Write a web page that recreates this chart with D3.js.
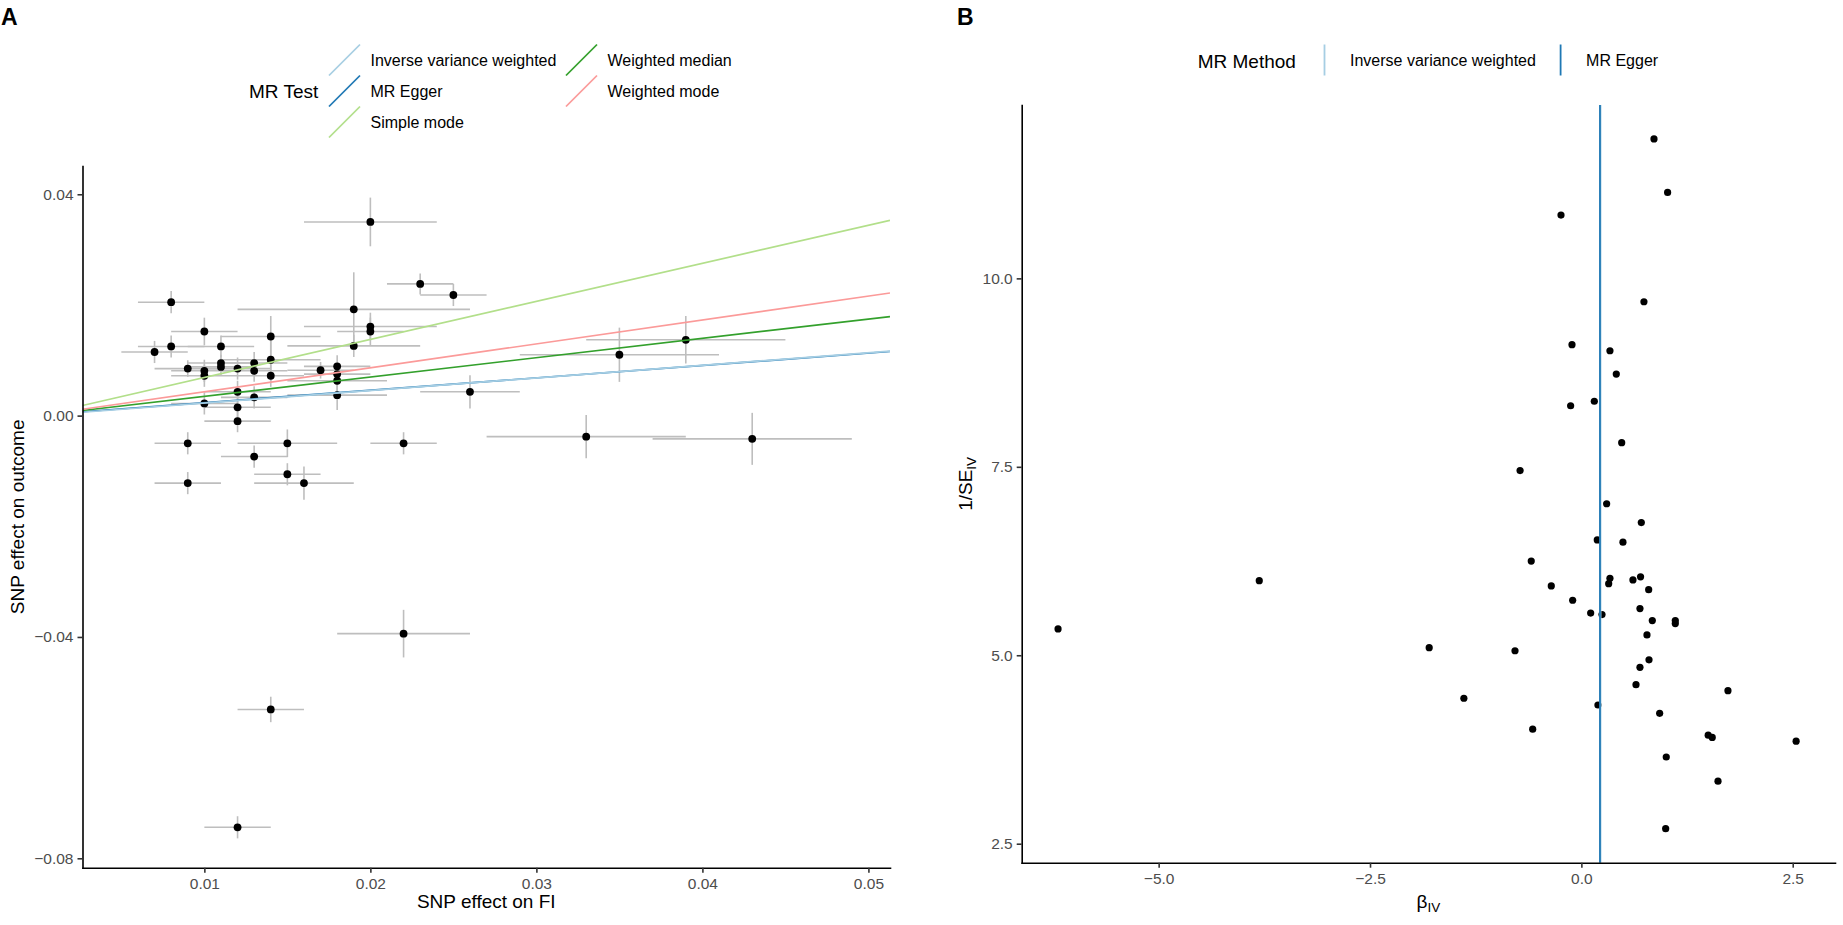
<!DOCTYPE html>
<html>
<head>
<meta charset="utf-8">
<script src="https://cdn.jsdelivr.net/npm/d3@7"></script>
<style>
  body { margin: 0; background: #fff; }
  svg { display: block; }
</style>
</head>
<body>
<svg id="fig" width="1843" height="925"></svg>
<script>
// Panel A: SNP effect on FI vs SNP effect on outcome, with MR fits
const snpFI = [0.020, 0.023, 0.025, 0.008, 0.019, 0.020, 0.020, 0.010, 0.014, 0.008,
  0.011, 0.019, 0.007, 0.014, 0.011, 0.011, 0.013, 0.013, 0.012, 0.009,
  0.010, 0.010, 0.014, 0.017, 0.018, 0.018, 0.018, 0.018, 0.012, 0.013,
  0.010, 0.012, 0.012, 0.009, 0.015, 0.022, 0.013, 0.015, 0.009, 0.016,
  0.026, 0.033, 0.035, 0.039, 0.043, 0.022, 0.014, 0.012];
const snpOutcome = [0.0350, 0.0238, 0.0218, 0.0205, 0.0192, 0.0161, 0.0152, 0.0152, 0.0143, 0.0125,
  0.0125, 0.0126, 0.0115, 0.0101, 0.0095, 0.0088, 0.0095, 0.0081, 0.0085, 0.0085,
  0.0081, 0.0072, 0.0072, 0.0082, 0.0089, 0.0075, 0.0063, 0.0037, 0.0043, 0.0033,
  0.0022, 0.0015, -0.0010, -0.0050, -0.0050, -0.0050, -0.0074, -0.0106, -0.0122, -0.0122,
  0.0043, -0.0038, 0.0110, 0.0137, -0.0042, -0.0394, -0.0531, -0.0744];
const seFI = [0.004, 0.002, 0.002, 0.002, 0.007, 0.004, 0.002, 0.002, 0.003, 0.002,
  0.002, 0.004, 0.002, 0.003, 0.002, 0.002, 0.002, 0.002, 0.002, 0.002,
  0.002, 0.002, 0.002, 0.002, 0.002, 0.002, 0.003, 0.003, 0.002, 0.002,
  0.002, 0.002, 0.002, 0.002, 0.003, 0.002, 0.002, 0.002, 0.002, 0.003,
  0.003, 0.006, 0.006, 0.006, 0.006, 0.004, 0.002, 0.002];
const seOutcome = [0.0044, 0.0019, 0.0020, 0.0020, 0.0067, 0.0025, 0.0025, 0.0025, 0.0037, 0.0020,
  0.0020, 0.0020, 0.0020, 0.0040, 0.0015, 0.0015, 0.0020, 0.0020, 0.0020, 0.0015,
  0.0020, 0.0020, 0.0020, 0.0015, 0.0020, 0.0015, 0.0020, 0.0027, 0.0020, 0.0020,
  0.0020, 0.0020, 0.0020, 0.0020, 0.0025, 0.0020, 0.0020, 0.0020, 0.0020, 0.0030,
  0.0030, 0.0039, 0.0049, 0.0043, 0.0047, 0.0043, 0.0023, 0.0020];

// MR estimates (drawing order: Egger first, IVW over it)
const mrMethods = ['MR Egger', 'Inverse variance weighted', 'Simple mode', 'Weighted median', 'Weighted mode'];
const mrSlopes = [0.224, 0.227, 0.688, 0.349, 0.432];
const mrIntercepts = [0.0001, 0, 0, 0, 0];
const aXTicks = [0.01, 0.02, 0.03, 0.04, 0.05];
const aYTicks = [-0.08, -0.04, 0.00, 0.04];

// Panel B: funnel plot
const betaIV = [-6.19, -3.81, -1.80, -1.39, -0.785, -0.725, -0.593, -0.576, -0.356, -0.241,
  -0.111, -0.127, -0.103, 0.153, 0.110, 0.188, 0.196, 0.244, 0.299, 0.338,
  0.338, 0.323, 0.413, 0.477, 0.492, 0.610, 0.709, 0.700, 0.693, 0.693,
  0.646, 0.776, 0.796, 0.800, 0.839, 0.926, 1.004, 0.997, 1.111, 1.111,
  1.500, 1.548, 1.734, 1.616, 2.540, 0.859, 1.020, 0.740];
const invSeIV = [5.35, 5.99, 5.10, 4.43, 5.06, 7.45, 6.25, 4.02, 5.92, 10.84,
  9.12, 8.31, 5.73, 8.37, 5.56, 6.53, 4.34, 5.54, 7.01, 9.04,
  6.02, 5.95, 8.73, 7.82, 6.50, 6.00, 6.76, 6.04, 5.62, 4.84,
  4.61, 5.27, 5.87, 4.94, 5.46, 4.23, 3.65, 2.70, 5.46, 5.42,
  3.94, 3.91, 4.53, 3.33, 3.86, 11.85, 11.14, 9.69];
const funnelMethods = ['Inverse variance weighted', 'MR Egger'];
const funnelBeta = [0.227, 0.220];
const bXTicks = [-5, -2.5, 0, 2.5];
const bYTicks = [2.5, 5, 7.5, 10];

const FONT = '"Liberation Sans", Arial, Helvetica, sans-serif';
const methodColor = d3.scaleOrdinal()
  .domain(['Inverse variance weighted', 'MR Egger', 'Simple mode', 'Weighted median', 'Weighted mode'])
  .range(['#a6cee3', '#1f78b4', '#b2df8a', '#33a02c', '#fb9a99']);

const svg = d3.select('#fig').attr('font-family', FONT);

function styleAxis(g) {
  g.attr('font-family', null).attr('font-size', null);
  g.select('.domain').attr('stroke', '#000').attr('stroke-width', 1.6).attr('stroke-linecap', 'square');
  g.selectAll('.tick line').attr('stroke', '#333').attr('stroke-width', 1.6);
  g.selectAll('.tick text').attr('fill', '#4d4d4d').attr('font-size', '15.5px').attr('font-family', FONT);
}

// ---------- Panel A ----------
const A = { left: 82.5, right: 890, top: 166, bottom: 867.7 };
const xA = d3.scaleLinear().domain([0.00266, 0.0513]).range([A.left, A.right]);
const yA = d3.scaleLinear().domain([-0.0817, 0.04511]).range([A.bottom, A.top]);

svg.append('clipPath').attr('id', 'clipA')
  .append('rect').attr('x', A.left).attr('y', A.top)
  .attr('width', A.right - A.left).attr('height', A.bottom - A.top);

const gA = svg.append('g');
const ptsA = snpFI.map((x, i) => ({ x, y: snpOutcome[i], sx: seFI[i], sy: seOutcome[i] }));

// error bars
gA.append('g').selectAll('line.v').data(ptsA).enter().append('line')
  .attr('x1', d => xA(d.x)).attr('x2', d => xA(d.x))
  .attr('y1', d => yA(d.y - d.sy)).attr('y2', d => yA(d.y + d.sy))
  .attr('stroke', '#bebebe').attr('stroke-width', 1.6);
gA.append('g').selectAll('line.h').data(ptsA).enter().append('line')
  .attr('x1', d => xA(d.x - d.sx)).attr('x2', d => xA(d.x + d.sx))
  .attr('y1', d => yA(d.y)).attr('y2', d => yA(d.y))
  .attr('stroke', '#bebebe').attr('stroke-width', 1.6);

gA.append('g').selectAll('circle').data(ptsA).enter().append('circle')
  .attr('cx', d => xA(d.x)).attr('cy', d => yA(d.y)).attr('r', 3.9).attr('fill', '#000');

// MR fit lines
const [x0, x1] = xA.domain();
gA.append('g').attr('clip-path', 'url(#clipA)')
  .selectAll('line').data(mrMethods.map((m, i) => ({ m, b: mrSlopes[i], a: mrIntercepts[i] })))
  .enter().append('line')
  .attr('x1', xA(x0)).attr('x2', xA(x1))
  .attr('y1', d => yA(d.a + d.b * x0)).attr('y2', d => yA(d.a + d.b * x1))
  .attr('stroke', d => methodColor(d.m)).attr('stroke-width', 1.7);

gA.append('g').attr('transform', `translate(0,${A.bottom})`)
  .call(d3.axisBottom(xA).tickValues(aXTicks).tickFormat(d3.format('.2f'))
    .tickSize(5).tickSizeOuter(0).tickPadding(5.5))
  .call(styleAxis);
gA.append('g').attr('transform', `translate(${A.left},0)`)
  .call(d3.axisLeft(yA).tickValues(aYTicks).tickFormat(d3.format('.2f'))
    .tickSize(5).tickSizeOuter(0).tickPadding(4))
  .call(styleAxis);

gA.append('text').attr('x', (A.left + A.right) / 2).attr('y', 908)
  .attr('text-anchor', 'middle').attr('font-size', '19px').text('SNP effect on FI');
gA.append('text').attr('transform', `translate(23.5,${(A.top + A.bottom) / 2}) rotate(-90)`)
  .attr('text-anchor', 'middle').attr('font-size', '19px').text('SNP effect on outcome');

// legend A (3 rows, filled by column)
const legA = gA.append('g');
legA.append('text').attr('x', 249).attr('y', 97.8).attr('font-size', '19px').text('MR Test');
const legAItems = methodColor.domain();
const keyW = 31, rowH = 31, rowTop = 44.5;
legAItems.forEach((m, i) => {
  const col = Math.floor(i / 3), row = i % 3;
  const kx = col === 0 ? 329 : 566;
  const ky = rowTop + row * rowH;
  legA.append('line')
    .attr('x1', kx).attr('y1', ky + keyW).attr('x2', kx + keyW).attr('y2', ky)
    .attr('stroke', methodColor(m)).attr('stroke-width', 1.7);
  legA.append('text').attr('x', kx + keyW + 10.5).attr('y', ky + rowH / 2 + 5.7)
    .attr('font-size', '16px').text(m);
});

svg.append('text').attr('x', 1).attr('y', 25).attr('font-size', '23px')
  .attr('font-weight', 'bold').text('A');

// ---------- Panel B ----------
const B = { left: 1021.7, right: 1835, top: 105, bottom: 862.7 };
const xB = d3.scaleLinear().domain([-6.62, 3.0]).range([B.left, B.right]);
const yB = d3.scaleLinear().domain([2.248, 12.30]).range([B.bottom, B.top]);

const gB = svg.append('g');
gB.append('g').selectAll('circle').data(betaIV.map((b, i) => ({ b, s: invSeIV[i] })))
  .enter().append('circle')
  .attr('cx', d => xB(d.b)).attr('cy', d => yB(d.s)).attr('r', 3.6).attr('fill', '#000');

gB.append('g').selectAll('line').data(funnelMethods.map((m, i) => ({ m, b: funnelBeta[i] })))
  .enter().append('line')
  .attr('x1', d => xB(d.b)).attr('x2', d => xB(d.b))
  .attr('y1', B.top).attr('y2', B.bottom)
  .attr('stroke', d => methodColor(d.m)).attr('stroke-width', 1.8);

gB.append('g').attr('transform', `translate(0,${B.bottom})`)
  .call(d3.axisBottom(xB).tickValues(bXTicks).tickFormat(d3.format('.1f'))
    .tickSize(5).tickSizeOuter(0).tickPadding(5.5))
  .call(styleAxis);
gB.append('g').attr('transform', `translate(${B.left},0)`)
  .call(d3.axisLeft(yB).tickValues(bYTicks).tickFormat(d3.format('.1f'))
    .tickSize(5).tickSizeOuter(0).tickPadding(4))
  .call(styleAxis);

const bx = gB.append('text').attr('x', (B.left + B.right) / 2).attr('y', 908)
  .attr('text-anchor', 'middle').attr('font-size', '19px');
bx.append('tspan').text('β');
bx.append('tspan').attr('font-size', '13.5px').attr('dy', 4).text('IV');

const by = gB.append('text').attr('transform', `translate(972,${(B.top + B.bottom) / 2}) rotate(-90)`)
  .attr('text-anchor', 'middle').attr('font-size', '19px');
by.append('tspan').text('1/SE');
by.append('tspan').attr('font-size', '13.5px').attr('dy', 4).text('IV');

// legend B (single row)
const legB = gB.append('g');
legB.append('text').attr('x', 1197.7).attr('y', 67.5).attr('font-size', '19px').text('MR Method');
[{ m: 'Inverse variance weighted', kx: 1324.5 }, { m: 'MR Egger', kx: 1560.6 }].forEach(d => {
  legB.append('line').attr('x1', d.kx).attr('x2', d.kx).attr('y1', 44.5).attr('y2', 75.5)
    .attr('stroke', methodColor(d.m)).attr('stroke-width', 1.8);
  legB.append('text').attr('x', d.kx + 25.5).attr('y', 66.4).attr('font-size', '16px').text(d.m);
});

svg.append('text').attr('x', 957).attr('y', 25).attr('font-size', '23px')
  .attr('font-weight', 'bold').text('B');
</script>
</body>
</html>
